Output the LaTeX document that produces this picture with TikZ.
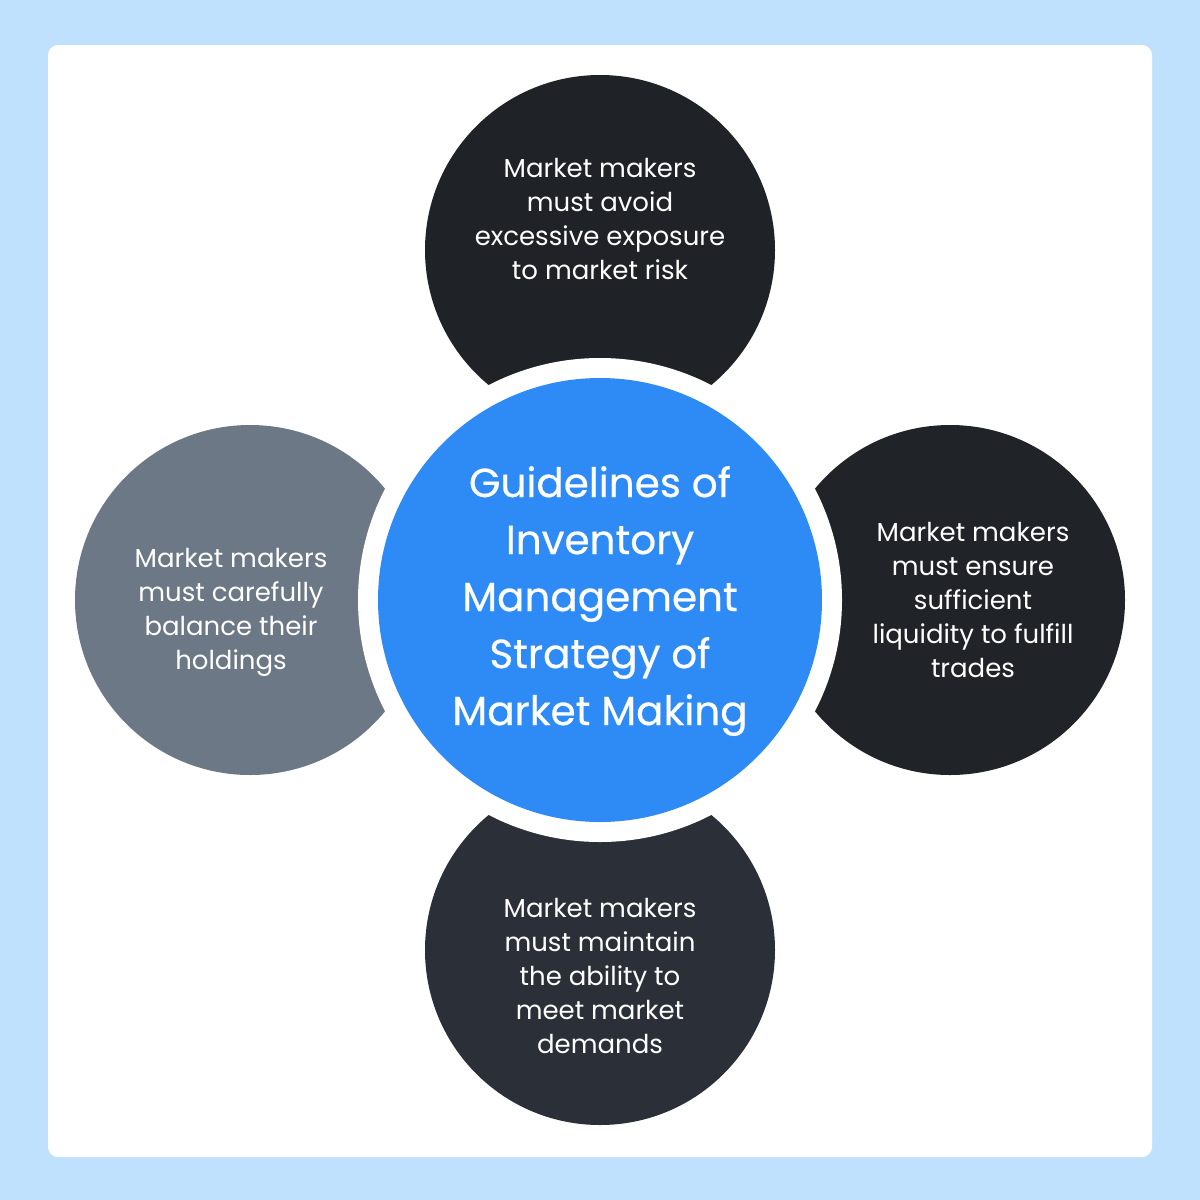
\documentclass[tikz,border=0pt]{standalone}
\usepackage{fontspec}
\setmainfont{Poppins}
\newfontfamily\titlefont[FakeBold=0.5]{Poppins}
\usepackage{xcolor}
\definecolor{skyback}{HTML}{BFE1FD}
\definecolor{darkone}{HTML}{1F2328}
\definecolor{darktwo}{HTML}{202327}
\definecolor{darkthree}{HTML}{2B3038}
\definecolor{greyone}{HTML}{6C7886}
\definecolor{mainblue}{HTML}{2E8BF6}
\begin{document}
\begin{tikzpicture}[x=1pt, y=-1pt,
        petal/.style = {circle, minimum size=350pt, inner sep=0pt},
        label/.style = {text=white, align=center, font=\fontsize{26}{34}\selectfont},
        title/.style = {text=white, align=center, font=\titlefont\fontsize{40.5}{57}\selectfont}]
        \useasboundingbox (0,0) rectangle (1200,1200);
        \fill[skyback] (0,0) rectangle (1200,1200);
        \fill[white, rounded corners=10pt] (48,45) rectangle (1152,1157);
        % outer circles
        \node[petal, fill=darkone] (top) at (600,250) {};
        \node[petal, fill=darktwo] (right) at (950,600) {};
        \node[petal, fill=darkthree] (bottom) at (600,950) {};
        \node[petal, fill=greyone] (left) at (250,600) {};
        % white ring and centre
        \node[circle, fill=white, minimum size=484pt, inner sep=0pt] (ring) at (600,600) {};
        \node[circle, fill=mainblue, minimum size=444pt, inner sep=0pt] (centre) at (ring) {};
        \node[title] (maintext) at (600,601) {Guidelines of\\Inventory\\Management\\Strategy of\\Market Making};
        \node[label] (toptext) at (600,219) {Market makers\\must avoid\\excessive exposure\\to market risk};
        \node[label] (righttext) at (973,600) {Market makers\\must ensure\\sufficient\\liquidity to fulfill\\trades};
        \node[label] (bottomtext) at (600,976) {Market makers\\must maintain\\the ability to\\meet market\\demands};
        \node[label] (lefttext) at (231,612) {Market makers\\must carefully\\balance their\\holdings};
    \end{tikzpicture}
\end{document}
